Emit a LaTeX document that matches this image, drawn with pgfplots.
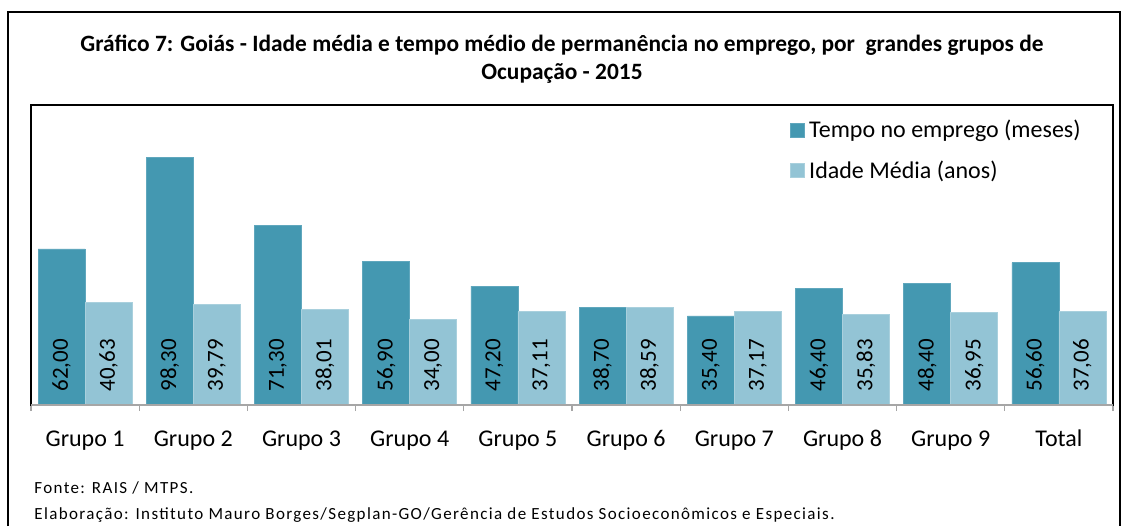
\documentclass[border=0pt]{standalone}
\usepackage{pgfplots}
\usepackage{pgfplotstable}
\pgfplotsset{compat=1.18}
\usepackage{fontspec}
\setmainfont{Carlito}
\newfontfamily\notefont[LetterSpace=8]{Carlito}
\definecolor{darkbar}{HTML}{4498B1}
\definecolor{lightbar}{HTML}{93C4D5}
\pgfplotstableread{
x t i tl il
0 62.00 40.63 62,00 40,63
1 98.30 39.79 98,30 39,79
2 71.30 38.01 71,30 38,01
3 56.90 34.00 56,90 34,00
4 47.20 37.11 47,20 37,11
5 38.70 38.59 38,70 38,59
6 35.40 37.17 35,40 37,17
7 46.40 35.83 46,40 35,83
8 48.40 36.95 48,40 36,95
9 56.60 37.06 56,60 37,06
}\datatable
\begin{document}
\begin{tikzpicture}
\useasboundingbox (0,0) rectangle (562pt,263pt);
% outer frame
\draw[black, line width=0.8pt] (4pt,0) -- (4pt,257pt) -- (560pt,257pt) -- (560pt,0);
% title
\node[font=\bfseries\fontsize{11.7}{14}\selectfont, anchor=base] at (281pt,237pt)
  {Gráfico 7: Goiás - Idade média e tempo médio de permanência no emprego, por\ \ grandes grupos de};
\node[font=\bfseries\fontsize{11.7}{14}\selectfont, anchor=base] at (281pt,223pt)
  {Ocupação - 2015};
% footnotes
\node[font=\notefont\fontsize{8.5}{10}\selectfont, anchor=base west, inner sep=0pt] at (17pt,16.5pt) {Fonte: RAIS / MTPS.};
\node[font=\notefont\fontsize{8.5}{10}\selectfont, anchor=base west, inner sep=0pt] at (17pt,3.5pt) {Elaboração: Instituto Mauro Borges/Segplan-GO/Gerência de Estudos Socioeconômicos e Especiais.};
\begin{axis}[
  at={(15.5pt,60.5pt)}, anchor=south west,
  width=541pt, height=150pt, scale only axis,
  ybar=0pt, bar width=23.5pt,
  xmin=-0.5, xmax=9.5, ymin=0, ymax=119.2,
  xtick=data,
  xticklabels={Grupo 1,Grupo 2,Grupo 3,Grupo 4,Grupo 5,Grupo 6,Grupo 7,Grupo 8,Grupo 9,Total},
  minor xtick={-0.5,0.5,...,9.5},
  major tick length=0pt, minor tick length=3pt,
  tick align=outside, xtick pos=bottom,
  minor x tick style={gray!70, line width=0.6pt},
  ytick=\empty,
  xticklabel style={font=\fontsize{12}{14}\selectfont, anchor=base, text height=8.5pt, text depth=2.5pt, yshift=-20.5pt},
  axis line style={black, line width=0.8pt},
  legend style={at={(rel axis cs:0.7015,0.965)}, anchor=north west, draw=none, fill=none,
    font=\fontsize{12}{14}\selectfont, row sep=6pt, inner sep=0pt,
    cells={anchor=west, xshift=3.5pt}},
  legend image code/.code={\fill[#1] (0pt,-3.5pt) rectangle (7pt,3.5pt);},
  clip=false,
]
\addplot[fill=darkbar, draw=darkbar!85!white, bar shift=-11.75pt] table[x=x, y=t] {\datatable};
\addlegendentry{Tempo no emprego (meses)}
\addplot[fill=lightbar, draw=lightbar!80!white, bar shift=11.75pt] table[x=x, y=i] {\datatable};
\addlegendentry{Idade Média (anos)}
\addplot[draw=none, fill=none, forget plot, bar shift=0pt,
  point meta=explicit symbolic, nodes near coords,
  every node near coord/.style={rotate=90, anchor=west, inner sep=0pt, font=\fontsize{11.5}{13}\selectfont, text=black}]
  table[x expr=\thisrow{x}-0.2172, y expr=5.2, meta=tl] {\datatable};
\addplot[draw=none, fill=none, forget plot, bar shift=0pt,
  point meta=explicit symbolic, nodes near coords,
  every node near coord/.style={rotate=90, anchor=west, inner sep=0pt, font=\fontsize{11.5}{13}\selectfont, text=black}]
  table[x expr=\thisrow{x}+0.2172, y expr=5.2, meta=il] {\datatable};
\draw[gray!70, line width=0.8pt] (rel axis cs:0,0) -- (rel axis cs:1,0);
\end{axis}
\end{tikzpicture}
\end{document}
